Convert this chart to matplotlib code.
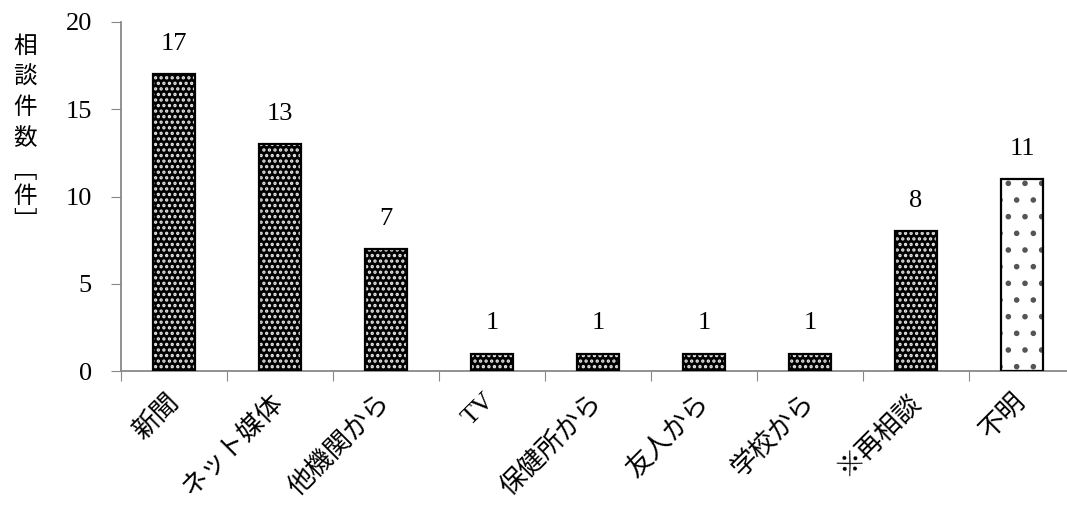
import matplotlib
matplotlib.use("Agg")
import matplotlib.pyplot as plt

plt.rcParams['font.family'] = ['Liberation Serif', 'Noto Sans CJK JP', 'DejaVu Sans']
plt.rcParams['hatch.linewidth'] = 1.6

categories = ['新聞', 'ネット媒体', '他機関から', 'TV', '保健所から', '友人から', '学校から', '※再相談', '不明']
counts = [17, 13, 7, 1, 1, 1, 1, 8, 11]
unknown_flags = [False, False, False, False, False, False, False, False, True]
y_ticks = [0, 5, 10, 15, 20]
y_label_chars = ['相', '談', '件', '数', '﹇', '件', '﹈']

W, H = 1067, 509
fig = plt.figure(figsize=(W / 100, H / 100), dpi=100)
ax = fig.add_axes([121 / W, (H - 371) / H, (1075 - 121) / W, (371 - 22) / H])

x = list(range(len(categories)))
bar_w = 0.4
for xi, val, unk in zip(x, counts, unknown_flags):
    if unk:
        ax.bar(xi, val, width=bar_w, color='white', edgecolor='#555555',
               hatch='.', linewidth=0, zorder=2)
    else:
        ax.bar(xi, val, width=bar_w, color='black', edgecolor='#e8e8e8',
               hatch='...', linewidth=0, zorder=2)
    ax.bar(xi, val, width=bar_w, color='none', edgecolor='black',
           linewidth=1.6, zorder=3)
    ax.text(xi, val + 1.1, str(val), ha='center', va='bottom', fontsize=19,
            family=['Liberation Serif'])

ax.set_xlim(-0.5, len(categories) - 0.5)
ax.set_ylim(0, 20)
ax.set_yticks(y_ticks)
ax.set_yticklabels([str(t) for t in y_ticks], fontsize=19)

ax.set_xticks([i - 0.5 for i in range(len(categories) + 1)])
ax.set_xticklabels([])
ax.tick_params(axis='x', length=7, color='#888888', direction='out')
ax.tick_params(axis='y', length=7, color='#888888', direction='out', pad=14)

for xi, lab in zip(x, categories):
    ax.text(xi - 0.08, -1.05, lab, rotation=45, ha='right', va='top',
            rotation_mode='anchor', fontsize=19,
            family=['Liberation Serif', 'Noto Sans CJK JP'], transform=ax.transData)

for s in ['top', 'right']:
    ax.spines[s].set_visible(False)
for s in ['left', 'bottom']:
    ax.spines[s].set_color('#888888')
    ax.spines[s].set_linewidth(1.3)

# vertical axis title, one character per line
label_centers = [46, 77, 108, 139, 172, 197, 222]
for ch, yc in zip(y_label_chars, label_centers):
    fig.text(25 / W, 1 - yc / H, ch, ha='center', va='center', fontsize=17,
             family=['Noto Sans CJK JP', 'DejaVu Sans'])

fig.savefig('out.png', dpi=100)
